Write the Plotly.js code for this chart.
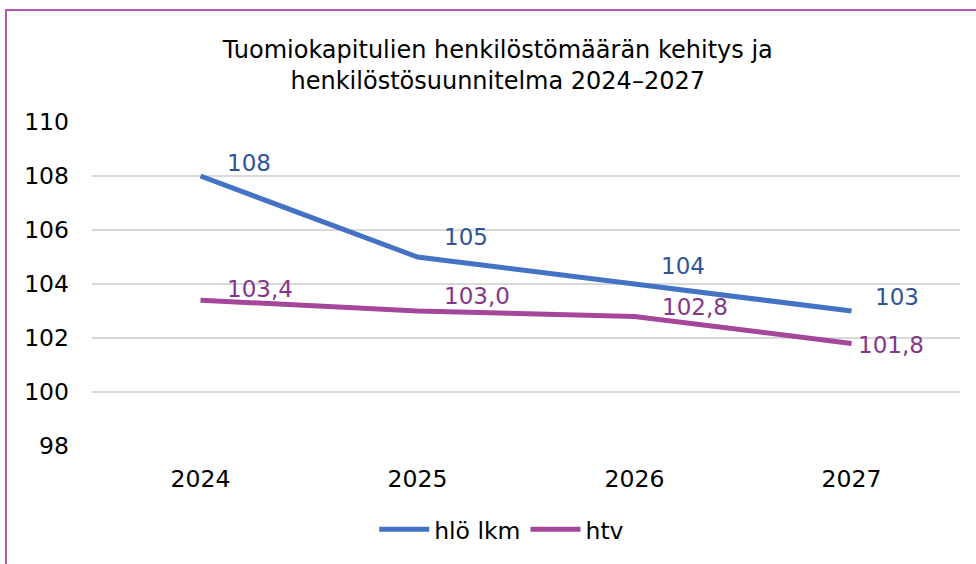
<!DOCTYPE html>
<html>
<head>
<meta charset="utf-8">
<script src="https://cdn.plot.ly/plotly-3.0.1.min.js"></script>
<style>
  html, body { margin: 0; padding: 0; background: #fff; }
  #wrap { position: relative; width: 976px; height: 564px; }
  #chart { width: 976px; height: 564px; }
  #frame { position: absolute; left: 5px; top: 9px; right: 0; bottom: 0;
           border-top: 2px solid #B455B0; border-left: 2px solid #B455B0;
           pointer-events: none; }
</style>
</head>
<body>
<div id="wrap"><div id="chart"></div><div id="frame"></div></div>
<script>
const years = ['2024', '2025', '2026', '2027'];
const hloLkm = [108, 105, 104, 103];
const htv = [103.4, 103.0, 102.8, 101.8];
const seriesNames = ['hlö lkm', 'htv'];
const titleText = 'Tuomiokapitulien henkilöstömäärän kehitys ja<br>henkilöstösuunnitelma 2024–2027';

// label placement (styling only)
const blueShift = [[24, 13], [24, 20], [24, 18], [21, 14]];
const purpleShift = [[24, 11], [24, 15], [25, 9], [4, -2]];

const font = 'DejaVu Sans, Verdana, sans-serif';
const blue = '#4472C4', purple = '#A4479B';
const blueText = '#2F5597', purpleText = '#84378A';

const traces = [
  { x: years, y: hloLkm, name: seriesNames[0], type: 'scatter', mode: 'lines',
    line: { color: blue, width: 5 } },
  { x: years, y: htv, name: seriesNames[1], type: 'scatter', mode: 'lines',
    line: { color: purple, width: 5 } }
];

const annotations = [];
years.forEach((yr, i) => {
  annotations.push({ x: i, y: hloLkm[i], xref: 'x', yref: 'y', text: String(hloLkm[i]),
    showarrow: false, xanchor: 'left', yanchor: 'middle',
    xshift: blueShift[i][0], yshift: blueShift[i][1],
    font: { family: font, size: 23, color: blueText } });
  annotations.push({ x: i, y: htv[i], xref: 'x', yref: 'y', text: htv[i].toFixed(1).replace('.', ','),
    showarrow: false, xanchor: 'left', yanchor: 'middle',
    xshift: purpleShift[i][0], yshift: purpleShift[i][1],
    font: { family: font, size: 23, color: purpleText } });
});

const layout = {
  width: 976, height: 564,
  margin: { l: 92, r: 16, t: 122, b: 116 },
  paper_bgcolor: 'rgba(0,0,0,0)', plot_bgcolor: '#fff',
  font: { family: font, size: 23, color: '#000' },
  title: { text: titleText, x: 0.51, xanchor: 'center', y: 0.898, yanchor: 'middle',
           font: { family: font, size: 24, color: '#000' } },
  xaxis: { type: 'category', range: [-0.5, 3.5], showgrid: false, zeroline: false,
           showline: false, ticks: '', ticklabelstandoff: 16,
           tickfont: { family: font, size: 23.5, color: '#000' } },
  yaxis: { range: [98, 110], dtick: 2, tick0: 98, showgrid: true, gridcolor: '#D9D9D9',
           gridwidth: 1.5, zeroline: false, showline: false, ticks: '', ticklabelstandoff: 22,
           tickfont: { family: font, size: 23.5, color: '#000' } },
  showlegend: true,
  legend: { orientation: 'h', x: 0.472, xanchor: 'center', y: -0.258, yanchor: 'middle',
            font: { family: font, size: 23.5, color: '#000' }, itemwidth: 50,
            bgcolor: 'rgba(0,0,0,0)' },
  annotations: annotations
};

Plotly.newPlot('chart', traces, layout, { displayModeBar: false, staticPlot: true });
</script>
</body>
</html>
